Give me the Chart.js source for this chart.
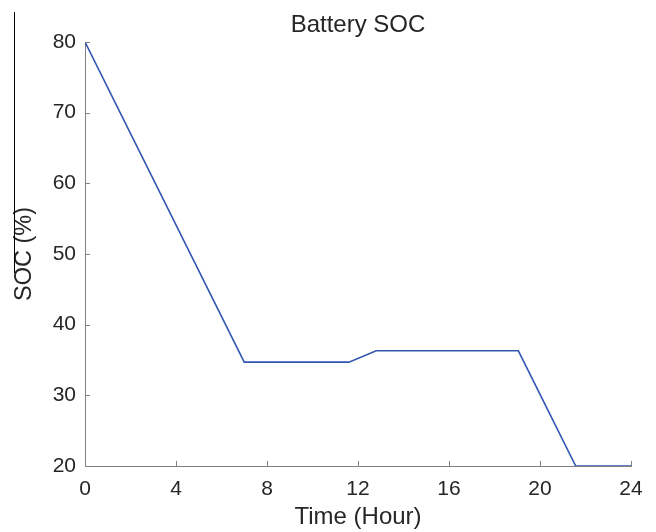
<!DOCTYPE html>
<html>
<head>
<meta charset="utf-8">
<script src="https://cdn.jsdelivr.net/npm/chart.js@4/dist/chart.umd.min.js"></script>
<style>
  html, body { margin: 0; padding: 0; background: #ffffff; }
  #wrap { width: 656px; height: 532px; position: relative; }
</style>
</head>
<body>
<div id="wrap"><canvas id="c" width="656" height="532"></canvas></div>
<script>
// ---- data ----
const timeHours = [0, 7, 11.6, 12.8, 19.05, 21.57, 24];
const socValues = [80, 34.7, 34.7, 36.3, 36.3, 20, 20];
const xTicks = [0, 4, 8, 12, 16, 20, 24];
const yTicks = [20, 30, 40, 50, 60, 70, 80];
const chartTitle = 'Battery SOC';
const xTitle = 'Time (Hour)';
const yTitle = 'SOC (%)';

const FONT = "'Liberation Sans', Arial, Helvetica, sans-serif";
const TEXT = '#262626';
const AXIS = '#808080';

const points = timeHours.map((t, i) => ({ x: t, y: socValues[i] }));

const inwardTicks = {
  id: 'inwardTicks',
  afterDraw(chart) {
    const ctx = chart.ctx;
    const xs = chart.scales.x, ys = chart.scales.y;
    const a = chart.chartArea;
    ctx.save();
    ctx.strokeStyle = AXIS;
    ctx.lineWidth = 1;
    ctx.beginPath();
    xTicks.forEach(v => {
      const px = Math.round(xs.getPixelForValue(v)) + 0.5;
      ctx.moveTo(px, a.bottom);
      ctx.lineTo(px, a.bottom - 5);
    });
    yTicks.forEach(v => {
      const py = Math.round(ys.getPixelForValue(v)) + 0.5;
      ctx.moveTo(a.left, py);
      ctx.lineTo(a.left + 5, py);
    });
    ctx.stroke();
    // stray frame edge visible at the left of the reference image
    ctx.strokeStyle = '#000000';
    ctx.beginPath();
    ctx.moveTo(14.5, 12);
    ctx.lineTo(14.5, 273);
    ctx.stroke();
    ctx.restore();
  }
};

new Chart(document.getElementById('c'), {
  type: 'line',
  data: {
    datasets: [{
      data: points,
      borderColor: '#3256b0',
      borderWidth: 1.6,
      pointRadius: 0,
      tension: 0,
      fill: false
    }]
  },
  options: {
    responsive: false,
    animation: false,
    devicePixelRatio: 1,
    layout: { padding: { left: 0, right: 25, top: 0, bottom: 0 } },
    plugins: {
      legend: { display: false },
      tooltip: { enabled: false },
      title: {
        display: true,
        fullSize: false,
        text: chartTitle,
        color: TEXT,
        font: { family: FONT, size: 24, weight: 'normal' },
        padding: { top: 10.6, bottom: 2.6 }
      }
    },
    scales: {
      x: {
        type: 'linear',
        min: 0, max: 24,
        afterFit(s) { s.height = 66; },
        afterBuildTicks(s) { s.ticks = xTicks.map(v => ({ value: v })); },
        grid: { display: true, drawOnChartArea: false, drawTicks: false },
        border: { display: true, color: AXIS, width: 1 },
        ticks: {
          color: TEXT,
          font: { family: FONT, size: 21 },
          padding: 11,
          maxRotation: 0,
          autoSkip: false
        },
        title: {
          display: true,
          text: xTitle,
          color: TEXT,
          font: { family: FONT, size: 24 },
          padding: { top: 0, bottom: 0 }
        }
      },
      y: {
        type: 'linear',
        min: 20, max: 80,
        afterFit(s) { s.width = 85; },
        afterBuildTicks(s) { s.ticks = yTicks.map(v => ({ value: v })); },
        grid: { display: true, drawOnChartArea: false, drawTicks: false },
        border: { display: true, color: AXIS, width: 1 },
        ticks: {
          color: TEXT,
          font: { family: FONT, size: 21 },
          padding: 9,
          autoSkip: false
        },
        title: {
          display: true,
          text: yTitle,
          color: TEXT,
          font: { family: FONT, size: 23.5 },
          padding: { top: 10.4, bottom: 0 }
        }
      }
    }
  },
  plugins: [inwardTicks]
});
</script>
</body>
</html>
